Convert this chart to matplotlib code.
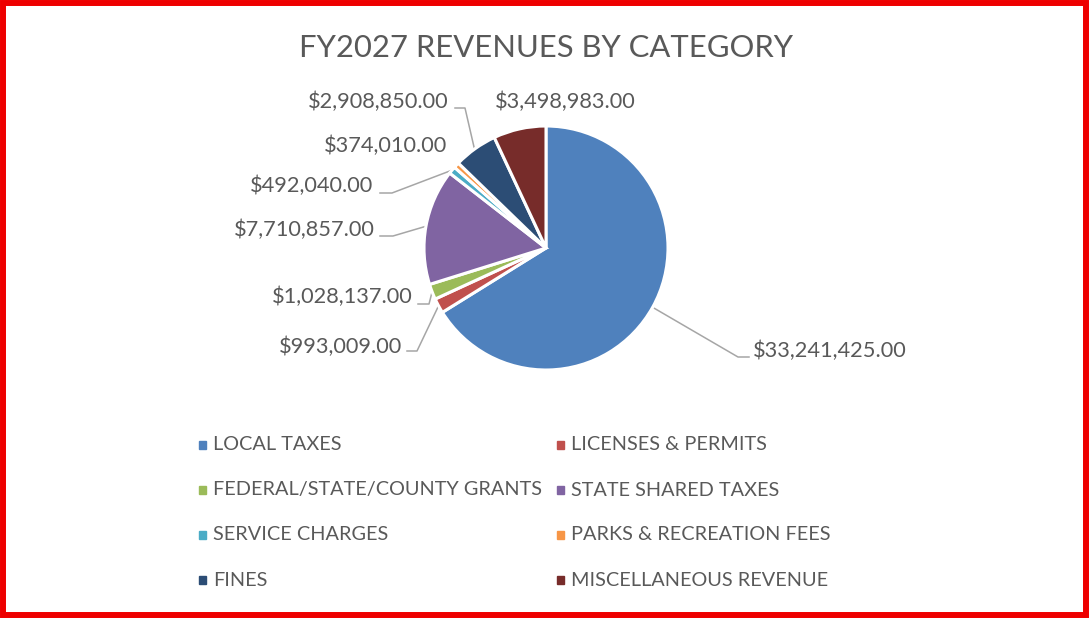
import numpy as np
import matplotlib.pyplot as plt
from matplotlib.patches import Rectangle

# data
categories = ["LOCAL TAXES", "LICENSES & PERMITS", "FEDERAL/STATE/COUNTY GRANTS",
              "STATE SHARED TAXES", "SERVICE CHARGES", "PARKS & RECREATION FEES",
              "FINES", "MISCELLANEOUS REVENUE"]
revenues = [33241425.00, 993009.00, 1028137.00, 7710857.00,
            492040.00, 374010.00, 2908850.00, 3498983.00]
colors = ["#4F81BD", "#C0504D", "#9BBB59", "#8064A2",
          "#4BACC6", "#F79646", "#2C4D75", "#772C2A"]

W, H = 1089, 618
cx, cy, R = 546, 248, 122   # pie centre / radius in pixels
grey = "#595959"
plt.rcParams['font.family'] = ['Lato', 'DejaVu Sans']

fig = plt.figure(figsize=(W / 100, H / 100), dpi=100)

# pie axes sized so the pie sits where it does in the picture
ax = fig.add_axes([(cx - R) / W, (H - cy - R) / H, 2 * R / W, 2 * R / H])
wedges, _ = ax.pie(revenues, colors=colors, startangle=90, counterclock=False,
                   wedgeprops=dict(edgecolor="white", linewidth=2.2))
ax.set_xlim(-1, 1)
ax.set_ylim(-1, 1)
ax.set_aspect("equal")

# overlay in pixel coords for text, leader lines, legend, border
ov = fig.add_axes([0, 0, 1, 1], zorder=-1)
ov.set_xlim(0, W)
ov.set_ylim(H, 0)
ov.axis("off")

ov.text(546, 48, "FY2027 REVENUES BY CATEGORY", fontsize=22.3, color=grey,
        ha="center", va="center")

# label layout: text position, alignment, leader elbow points (None = no leader)
label_pos = [(753, 351, "left"), (402, 347, "right"), (413, 297, "right"),
             (375, 230, "right"), (373, 186, "right"), (447, 146, "right"),
             (449, 102, "right"), (565, 102, "center")]
leaders = [[(738, 357), (749, 357)],
           [(417, 351), (407, 351)],
           [(429, 304), (418, 304)],
           [(393, 236), (380, 236)],
           [(392, 193), (380, 193)],
           None,
           [(474, 147), (465, 108), (455, 108)],
           None]

for w, val, (tx, ty, ha), lead in zip(wedges, revenues, label_pos, leaders):
    if lead is not None:
        mid = np.deg2rad((w.theta1 + w.theta2) / 2)
        pts = [(cx + R * np.cos(mid), cy - R * np.sin(mid))]
        if len(lead) == 3:
            pts = lead
        else:
            pts += lead
        xs, ys = zip(*pts)
        ov.plot(xs, ys, color="#A6A6A6", lw=1.1)
    ov.text(tx, ty, f"${val:,.2f}", fontsize=15.7, color=grey, ha=ha, va="center")

# legend, two columns, filled row by row
col_x = [199, 557]
row_y = [445, 490, 535, 580]
for i, (name, c) in enumerate(zip(categories, colors)):
    x = col_x[i % 2]
    y = row_y[i // 2]
    ov.add_patch(Rectangle((x, y - 4), 7, 8, color=c))
    ov.text(x + 14, y, name, fontsize=14.3, color=grey, ha="left", va="center")

# red frame round the picture
ov.add_patch(Rectangle((3, 3), W - 6, H - 6, fill=False, edgecolor="#EE0000",
                       linewidth=4.3))

fig.savefig("out.png", dpi=100)
